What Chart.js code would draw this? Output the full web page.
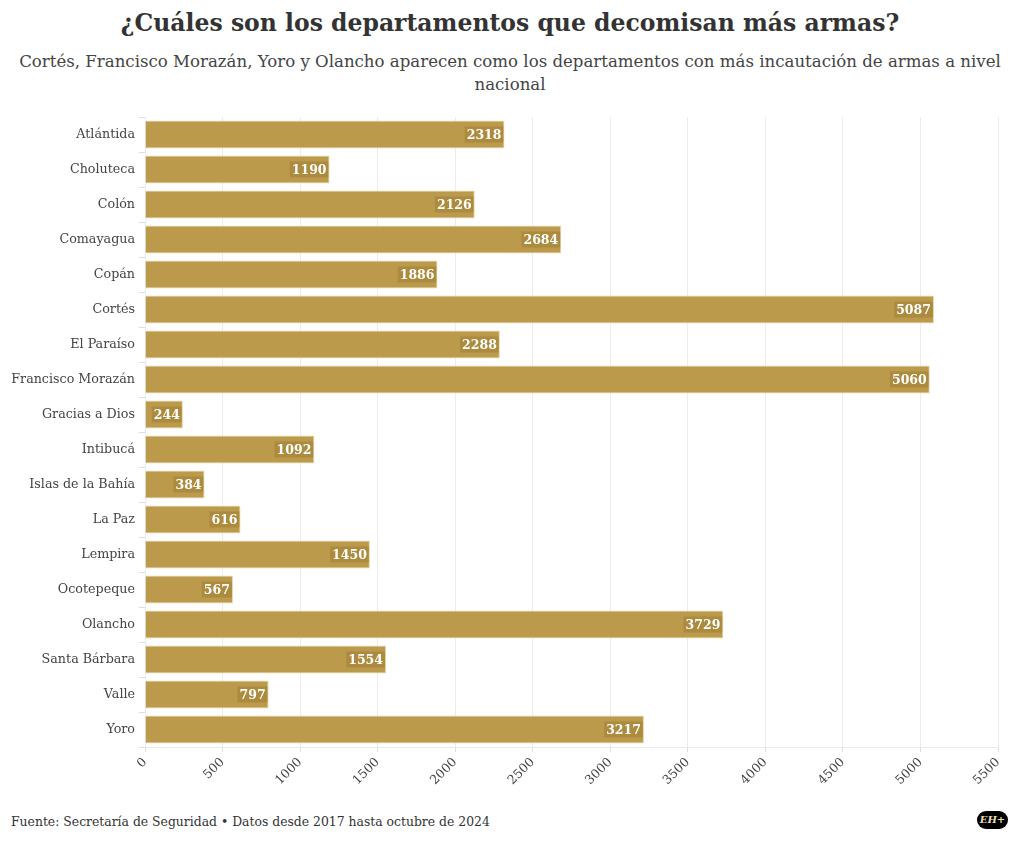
<!DOCTYPE html>
<html lang="es">
<head>
<meta charset="UTF-8">
<title>Decomiso de armas por departamento</title>
<script src="https://cdn.jsdelivr.net/npm/chart.js"></script>
<style>
    body {
        margin: 0;
        width: 1020px;
        height: 844px;
        background: #fff;
        font-family: "DejaVu Serif", serif;
        color: #333;
        position: relative;
        overflow: hidden;
    }
    h1 {
        position: absolute;
        top: 9px; left: 0; width: 1020px;
        margin: 0;
        text-align: center;
        font-size: 23.5px;
        font-weight: bold;
        color: #333;
    }
    .sub {
        position: absolute;
        top: 50px; left: 0; width: 1020px;
        text-align: center;
        font-size: 16.6px;
        line-height: 23px;
        color: #444;
    }
    .chart-box {
        position: absolute;
        top: 101px; left: 0;
        width: 1020px; height: 700px;
    }
    .footer {
        position: absolute;
        left: 11px; top: 814px;
        font-size: 12.4px;
        color: #333;
    }
    .logo {
        position: absolute;
        left: 977px; top: 811px;
        width: 31px; height: 18px;
        border-radius: 9px;
        background: #000;
        color: #e8dcb5;
        font-size: 10px;
        font-weight: bold;
        font-style: italic;
        text-align: center;
        line-height: 18px;
    }
</style>
</head>
<body>
    <h1>¿Cuáles son los departamentos que decomisan más armas?</h1>
    <div class="sub">Cortés, Francisco Morazán, Yoro y Olancho aparecen como los departamentos con más incautación de armas a nivel<br>nacional</div>
    <div class="chart-box"><canvas id="armasChart"></canvas></div>
    <div class="footer">Fuente: Secretaría de Seguridad • Datos desde 2017 hasta octubre de 2024</div>
    <div class="logo">EH+</div>

    <script>
        const departamentos = ['Atlántida', 'Choluteca', 'Colón', 'Comayagua', 'Copán', 'Cortés', 'El Paraíso',
            'Francisco Morazán', 'Gracias a Dios', 'Intibucá', 'Islas de la Bahía', 'La Paz', 'Lempira',
            'Ocotepeque', 'Olancho', 'Santa Bárbara', 'Valle', 'Yoro'];
        const armas = [2318, 1190, 2126, 2684, 1886, 5087, 2288, 5060, 244, 1092, 384, 616, 1450, 567, 3729, 1554, 797, 3217];
        const xTicks = [0, 500, 1000, 1500, 2000, 2500, 3000, 3500, 4000, 4500, 5000, 5500];

        const fontFamily = '"DejaVu Serif", serif';

        // value labels drawn at the end of each bar
        const valueLabels = {
            id: 'valueLabels',
            afterDatasetsDraw(chart) {
                const ctx = chart.ctx;
                const meta = chart.getDatasetMeta(0);
                ctx.save();
                ctx.font = 'bold 12.5px ' + fontFamily;
                ctx.textAlign = 'right';
                ctx.textBaseline = 'middle';
                meta.data.forEach((bar, i) => {
                    const txt = String(armas[i]);
                    const w = ctx.measureText(txt).width;
                    const xr = bar.x - 3;
                    ctx.fillStyle = 'rgba(150, 118, 45, 0.4)';
                    ctx.fillRect(xr - w - 2, bar.y - 8, w + 4, 16);
                    ctx.fillStyle = '#fff';
                    ctx.fillText(txt, xr, bar.y + 1);
                });
                ctx.restore();
            }
        };

        new Chart(document.getElementById('armasChart'), {
            type: 'bar',
            data: {
                labels: departamentos,
                datasets: [{
                    data: armas,
                    backgroundColor: '#bb9a4b',
                    borderColor: '#e6d6a6',
                    borderWidth: 1,
                    barPercentage: 0.8,
                    categoryPercentage: 1
                }]
            },
            options: {
                indexAxis: 'y',
                responsive: true,
                maintainAspectRatio: false,
                animation: false,
                layout: { padding: { top: 16, right: 22, left: 0, bottom: 0 } },
                plugins: {
                    legend: { display: false },
                    tooltip: { enabled: false }
                },
                scales: {
                    x: {
                        min: 0,
                        max: 5500,
                        afterBuildTicks(scale) {
                            scale.ticks = xTicks.map(v => ({ value: v }));
                        },
                        afterFit(scale) { scale.height = 54; },
                        grid: { color: '#ececec', tickLength: 5, tickColor: '#ddd' },
                        border: { color: '#ececec' },
                        ticks: {
                            minRotation: 45,
                            maxRotation: 45,
                            color: '#444',
                            font: { family: fontFamily, size: 12.5 },
                            callback: v => String(v)
                        }
                    },
                    y: {
                        afterFit(scale) { scale.width = 145; },
                        grid: { drawOnChartArea: false, tickLength: 6, tickColor: '#ddd' },
                        border: { display: false },
                        ticks: {
                            color: '#444',
                            padding: 4,
                            font: { family: fontFamily, size: 12.7 }
                        }
                    }
                }
            },
            plugins: [valueLabels]
        });
    </script>
</body>
</html>
